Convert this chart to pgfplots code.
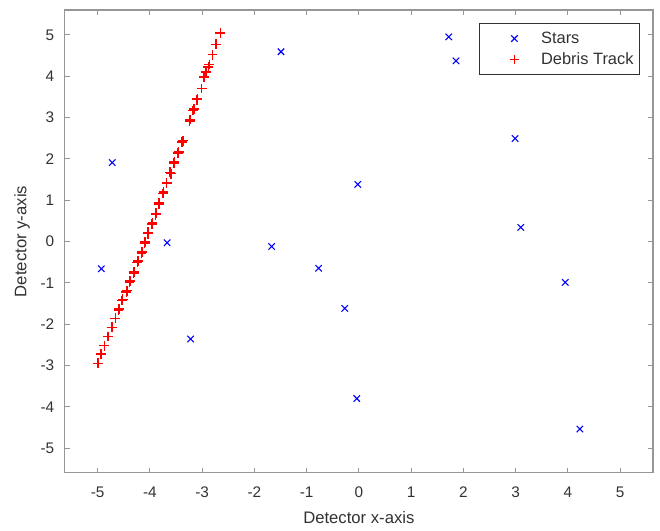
\documentclass[border=0pt]{standalone}
\usepackage{pgfplots}
\pgfplotsset{compat=1.18}
\usepackage{fontspec}
\setmainfont{Liberation Sans}

\definecolor{framegray}{RGB}{150,150,150}
\definecolor{textgray}{RGB}{50,50,50}
\definecolor{starblue}{RGB}{0,0,255}
\definecolor{debrisred}{RGB}{255,0,0}

\pgfplotsset{
  widelegend/.style={legend image code/.code={%
    \path[draw=none,fill=none] (0pt,-4pt) rectangle (42pt,4pt);
    \draw[mark repeat=2,mark phase=2,##1] plot coordinates {(0pt,0pt) (24pt,0pt) (42pt,0pt)};}},
}

\begin{document}
\begin{tikzpicture}
\begin{axis}[
scale only axis,
width=441pt, height=347pt,
xmin=-5.63, xmax=5.63,
ymin=-5.6, ymax=5.6,
xtick={-5,-4,...,5},
ytick={-5,-4,...,5},
tick align=inside,
tick pos=both,
major tick length=4pt,
axis line style={framegray, line width=0.8pt},
every tick/.style={framegray, line width=0.8pt},
ticklabel style={font=\fontsize{11.5}{13}\selectfont, text=textgray},
xticklabel style={yshift=-7pt},
yticklabel style={xshift=-4.3pt},
/pgf/number format/assume math mode=true,
xlabel={Detector x-axis},
ylabel={Detector y-axis},
label style={font=\fontsize{12.5}{14}\selectfont, text=textgray},
xlabel style={at={(axis description cs:0.5,-0.0973)}, anchor=center},
ylabel style={at={(axis description cs:-0.0726,0.5)}, anchor=center},
legend cell align=left,
legend style={at={(1,1)}, anchor=north east, xshift=-9.75pt, yshift=-10pt,
  draw=textgray, line width=0.7pt, font=\fontsize{12.3}{14}\selectfont, text=textgray,
  row sep=1.5pt, inner xsep=2.5pt, inner ysep=4pt},
]
\addplot [only marks, color=starblue, mark=x, mark size=3.4pt, line width=0.8pt,
  mark options={solid, draw=starblue}, widelegend]
table {%
-4.93 -0.66
-4.72 1.91
-3.67 -0.03
-3.22 -2.36
-1.49 4.59
-1.67 -0.12
-0.77 -0.65
-0.27 -1.62
-0.02 1.38
-0.04 -3.80
1.72 4.95
1.86 4.37
2.99 2.49
3.10 0.34
3.95 -0.99
4.23 -4.54
};
\addlegendentry{Stars}
\addplot [only marks, color=debrisred, mark=+, mark size=3.7pt, line width=1.2pt,
  mark options={solid, draw=debrisred}, widelegend]
table {%
-2.65 5.05
-2.73 4.77
-2.80 4.52
-2.88 4.22
-2.86 4.28
-2.93 4.10
-2.96 3.98
-3.01 3.70
-3.10 3.43
-3.09 3.46
-3.17 3.17
-3.16 3.20
-3.24 2.92
-3.23 2.95
-3.38 2.41
-3.37 2.44
-3.46 2.14
-3.45 2.17
-3.54 1.90
-3.53 1.93
-3.60 1.64
-3.61 1.67
-3.68 1.41
-3.75 1.16
-3.74 1.19
-3.83 0.90
-3.82 0.93
-3.89 0.65
-3.88 0.68
-3.96 0.42
-3.95 0.45
-4.04 0.19
-4.03 0.22
-4.10 -0.05
-4.09 -0.02
-4.16 -0.28
-4.15 -0.25
-4.24 -0.51
-4.23 -0.48
-4.31 -0.76
-4.30 -0.73
-4.39 -0.98
-4.38 -0.95
-4.45 -1.22
-4.44 -1.19
-4.53 -1.43
-4.52 -1.40
-4.60 -1.66
-4.59 -1.63
-4.66 -1.86
-4.73 -2.08
-4.80 -2.30
-4.87 -2.52
-4.93 -2.72
-4.99 -2.95
};
\addlegendentry{Debris Track}
\end{axis}
\pgfresetboundingbox
\path ([xshift=-48.5pt,yshift=-43.5pt]current axis.south west)
  rectangle ([xshift=5.25pt,yshift=7.5pt]current axis.north east);
\end{tikzpicture}
\end{document}
